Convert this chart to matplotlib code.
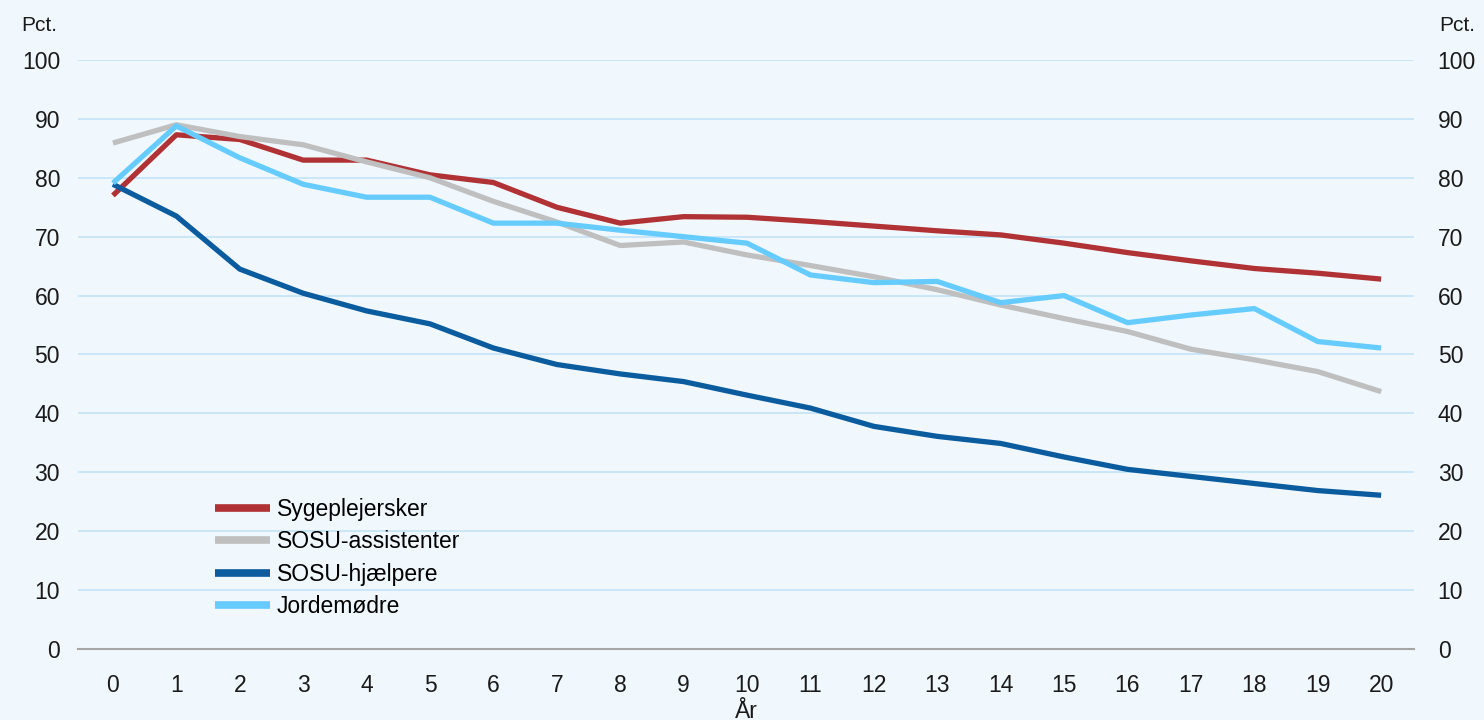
import matplotlib.pyplot as plt
import numpy as np

# year since start
years = list(range(21))

sygeplejersker = [77.0, 87.3, 86.5, 83.0, 83.0, 80.5, 79.2, 75.0, 72.3, 73.4, 73.3,
                  72.6, 71.8, 71.0, 70.3, 68.9, 67.3, 65.9, 64.6, 63.8, 62.8]
sosu_assistenter = [85.9, 89.0, 87.0, 85.6, 82.7, 80.0, 76.0, 72.5, 68.5, 69.1, 66.9,
                    65.1, 63.2, 61.0, 58.4, 56.1, 53.9, 50.9, 49.1, 47.1, 43.7]
sosu_hjaelpere = [78.9, 73.5, 64.5, 60.4, 57.4, 55.2, 51.1, 48.3, 46.7, 45.4, 43.1,
                  40.9, 37.8, 36.1, 34.9, 32.6, 30.5, 29.3, 28.1, 26.9, 26.1]
jordemoedre = [79.1, 88.8, 83.4, 78.9, 76.7, 76.7, 72.3, 72.3, 71.1, 70.0, 68.9,
               63.5, 62.2, 62.4, 58.8, 60.0, 55.4, 56.7, 57.8, 52.2, 51.1]

series = [
    ("Sygeplejersker", sygeplejersker, "#B03235"),
    ("SOSU-assistenter", sosu_assistenter, "#BFBFBF"),
    ("SOSU-hjælpere", sosu_hjaelpere, "#0B5C9E"),
    ("Jordemødre", jordemoedre, "#66CCFF"),
]

plt.rcParams['font.family'] = ['Liberation Sans', 'DejaVu Sans']
BG = "#F0F8FE"
FS = 16.5

fig = plt.figure(figsize=(14.84, 7.2), dpi=100, facecolor=BG)
ax = fig.add_axes([0.0526, 0.0986, 0.9003, 0.8181])
ax.set_facecolor(BG)

for label, vals, color in series:
    ax.plot(years, vals, color=color, lw=3.8, label=label, solid_capstyle="butt")

ax.set_xlim(-0.55, 20.52)
ax.set_ylim(0, 100)
ax.set_yticks(np.arange(0, 101, 10))
ax.set_xticks(years)
ax.yaxis.grid(True, color="#C2E4F8", lw=1.2)
ax.set_axisbelow(True)

for s in ["top", "right", "left"]:
    ax.spines[s].set_visible(False)
ax.spines["bottom"].set_color("#A6A6A6")
ax.spines["bottom"].set_linewidth(1.5)

ax.tick_params(axis="both", length=0, labelsize=FS, colors="#1a1a1a")
ax.tick_params(axis="y", pad=13)
ax.tick_params(axis="x", pad=18)

ax2 = ax.twinx()
ax2.set_ylim(0, 100)
ax2.set_yticks(np.arange(0, 101, 10))
for s in ["top", "right", "left", "bottom"]:
    ax2.spines[s].set_visible(False)
ax2.tick_params(axis="y", length=0, labelsize=FS, colors="#1a1a1a", pad=17)

fig.text(0.0145, 0.965, "Pct.", fontsize=FS - 1.5, ha="left", va="center", color="#1a1a1a")
fig.text(0.970, 0.965, "Pct.", fontsize=FS - 1.5, ha="left", va="center", color="#1a1a1a")
fig.text(0.503, 0.012, "År", fontsize=FS, ha="center", va="center", color="#1a1a1a")

leg = ax.legend(loc="upper left", bbox_to_anchor=(0.094, 0.2765), frameon=False,
                fontsize=FS, handlelength=2.4, handletextpad=0.3, labelspacing=0.42,
                borderpad=0)
for line in leg.get_lines():
    line.set_linewidth(5.5)

fig.savefig("out.png", dpi=100, facecolor=BG)
